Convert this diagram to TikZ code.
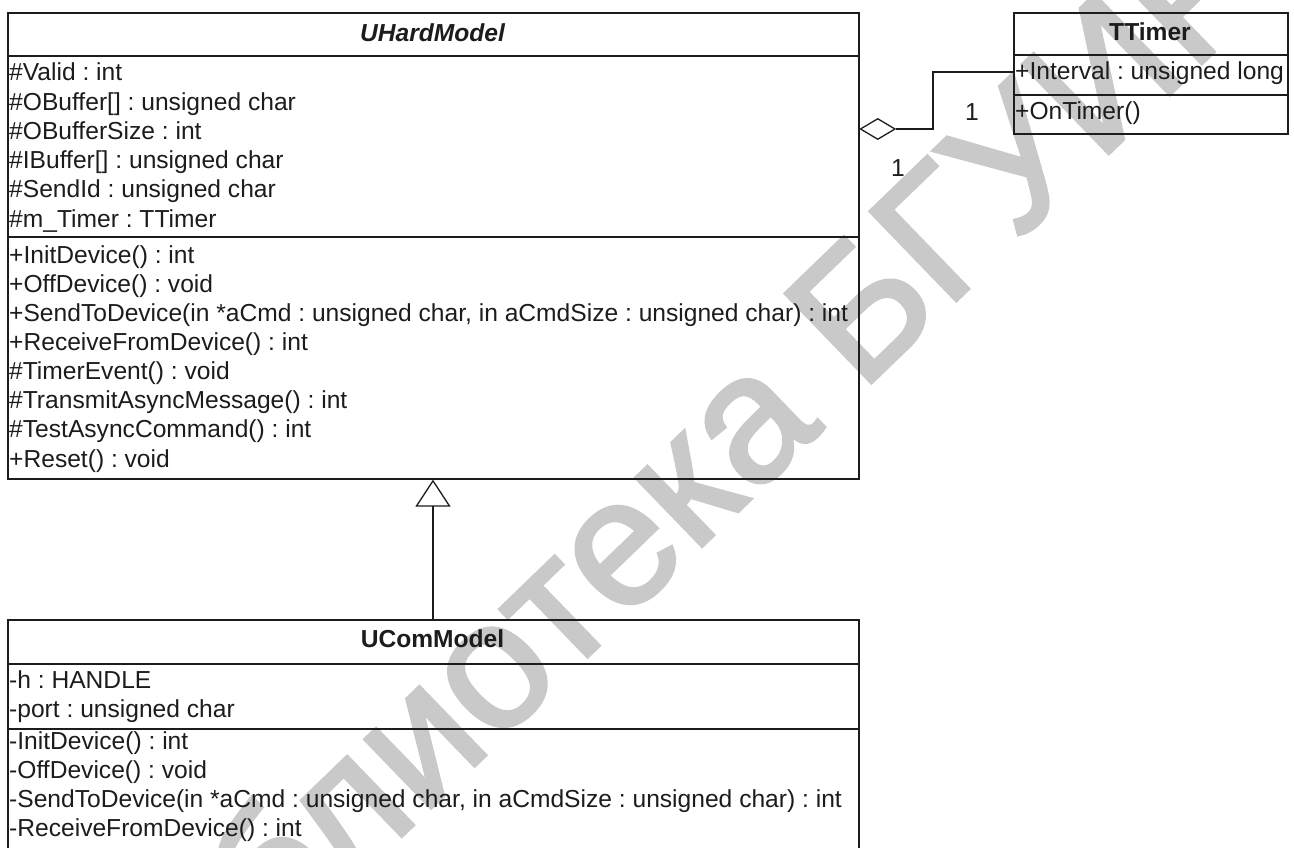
\documentclass[tikz,border=0pt]{standalone}
\usepackage{fontspec}
\setmainfont{Liberation Sans}
\newfontfamily\wmfont{Liberation Sans}[FakeBold=2]
\usetikzlibrary{arrows.meta,shapes.geometric}
\newcommand\umlfont{\fontsize{24.6}{29}\selectfont}
\definecolor{wmgray}{HTML}{C9C9C9}
\definecolor{ink}{HTML}{1C1C1C}
\frenchspacing
\tikzset{
  classbox/.style={draw=ink, line width=1.6pt, inner sep=0pt, anchor=north west},
  sepline/.style={draw=ink, line width=1.6pt},
  txt/.style={anchor=base west, inner sep=0pt, font=\umlfont, text=ink},
  ttl/.style={anchor=base, inner sep=0pt, font=\umlfont\bfseries, text=ink},
  mult/.style={inner sep=0pt, font=\umlfont, text=ink},
  conn/.style={draw=ink, line width=1.3pt},
  wmark/.style={rotate=44, inner sep=0pt, text=wmgray, font=\wmfont\fontsize{180}{180}\selectfont}
}
\begin{document}
\begin{tikzpicture}[x=1pt,y=-1pt]
\useasboundingbox (0,0) rectangle (1294,848);
\clip (0,0) rectangle (1294,848);
% watermark
\node[wmark] (wm) at (654,502) {Библиотека БГУИР};

% UHardModel
\node[classbox, minimum width=851pt, minimum height=466pt] (hard) at (7,12) {};
\draw[sepline] (hard.west |- 0,56) -- (hard.east |- 0,56);
\draw[sepline] (hard.west |- 0,237) -- (hard.east |- 0,237);
\node[ttl, font=\umlfont\bfseries\itshape] (hardT) at (432.5,42) {UHardModel};
\node[txt] (ha1) at (9,81) {\#Valid : int};
\node[txt] (ha2) at (9,110.2) {\#OBuffer[] : unsigned char};
\node[txt] (ha3) at (9,139.4) {\#OBufferSize : int};
\node[txt] (ha4) at (9,168.6) {\#IBuffer[] : unsigned char};
\node[txt] (ha5) at (9,197.8) {\#SendId : unsigned char};
\node[txt] (ha6) at (9,227) {\#m\_Timer : TTimer};
\node[txt] (ho1) at (9,263) {+InitDevice() : int};
\node[txt] (ho2) at (9,292.1) {+OffDevice() : void};
\node[txt] (ho3) at (9,321.3) {+SendToDevice(in *aCmd : unsigned char, in aCmdSize : unsigned char) : int};
\node[txt] (ho4) at (9,350.4) {+ReceiveFromDevice() : int};
\node[txt] (ho5) at (9,379.6) {\#TimerEvent() : void};
\node[txt] (ho6) at (9,408.7) {\#TransmitAsyncMessage() : int};
\node[txt] (ho7) at (9,437.9) {\#TestAsyncCommand() : int};
\node[txt] (ho8) at (9,467) {+Reset() : void};

% TTimer
\node[classbox, minimum width=274pt, minimum height=121pt] (timer) at (1013,12) {};
\draw[sepline] (timer.west |- 0,55) -- (timer.east |- 0,55);
\draw[sepline] (timer.west |- 0,95) -- (timer.east |- 0,95);
\node[ttl] (timerT) at (1150,41) {TTimer};
\node[txt] (ta1) at (1015,80) {+Interval : unsigned long};
\node[txt] (to1) at (1015,120) {+OnTimer()};

% UComModel
\node[classbox, minimum width=851pt, minimum height=260pt] (com) at (7,619) {};
\draw[sepline] (com.west |- 0,664) -- (com.east |- 0,664);
\draw[sepline] (com.west |- 0,729) -- (com.east |- 0,729);
\node[ttl] (comT) at (432.5,647) {UComModel};
\node[txt] (ca1) at (9,688) {-h : HANDLE};
\node[txt] (ca2) at (9,717) {-port : unsigned char};
\node[txt] (co1) at (9,749) {-InitDevice() : int};
\node[txt] (co2) at (9,778) {-OffDevice() : void};
\node[txt] (co3) at (9,807) {-SendToDevice(in *aCmd : unsigned char, in aCmdSize : unsigned char) : int};
\node[txt] (co4) at (9,836) {-ReceiveFromDevice() : int};

% aggregation
\node[diamond, aspect=1.7, draw=ink, line width=1.3pt, fill=white, minimum width=35pt, minimum height=21pt, inner sep=0pt, anchor=west] (dia) at (hard.east |- 0,129) {};
\coordinate (aggbend) at (933,129);
\coordinate (aggend) at (timer.west |- 0,72);
\draw[conn] (dia.east) -- (aggbend) |- (aggend);
\node[mult] (m1) at (972,112) {1};
\node[mult] (m2) at (898,168) {1};

% generalization
\coordinate (genstart) at (com.north -| 433,0);
\coordinate (genend) at (hard.south -| 433,0);
\draw[conn, -{Triangle[open, length=27pt, width=35pt]}] (genstart) -- (genend);
\end{tikzpicture}
\end{document}
